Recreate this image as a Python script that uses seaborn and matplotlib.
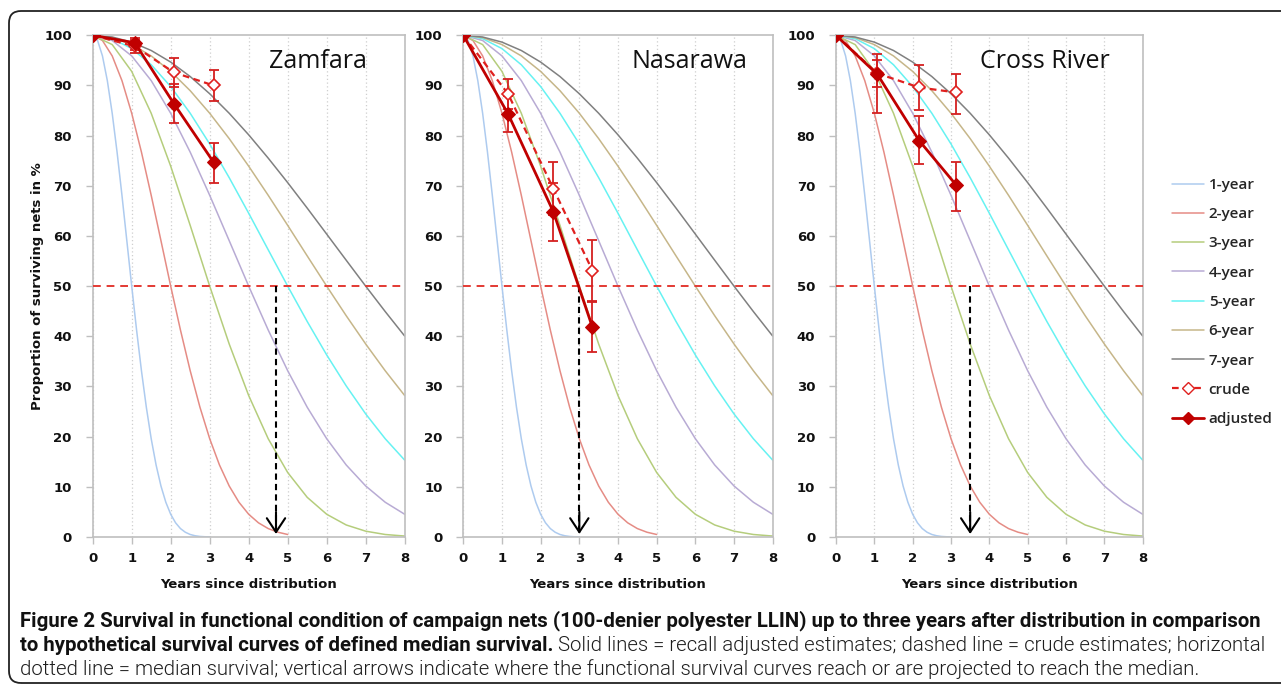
import numpy as np
import pandas as pd
import matplotlib
matplotlib.use("Agg")
import matplotlib.pyplot as plt
import seaborn as sns
from matplotlib.patches import FancyBboxPatch
from matplotlib.transforms import IdentityTransform
from matplotlib.lines import Line2D

# ---------------- data ----------------
curve_names = ["1-year", "2-year", "3-year", "4-year", "5-year", "6-year", "7-year"]
curve_colors = ["#aecbef", "#e58c85", "#b5cd7c", "#b8abd4", "#66f2f2", "#c6b689", "#808080"]

# hypothetical survival curves (% surviving), read at regular steps
years_1yr = np.arange(0, 3.0001, 0.125)
surv_1yr = [100, 98.96, 95.89, 90.97, 84.46, 76.71, 68.11, 59.07, 50.00, 41.26, 33.14,
            25.87, 19.59, 14.36, 10.17, 6.93, 4.53, 2.83, 1.68, 0.95, 0.50, 0.25,
            0.11, 0.05, 0.02]
years_2yr = np.arange(0, 5.0001, 0.25)
surv_2yr = [100, 98.96, 95.89, 90.97, 84.46, 76.71, 68.11, 59.07, 50.00, 41.26, 33.14,
            25.87, 19.59, 14.36, 10.17, 6.93, 4.53, 2.83, 1.68, 0.95, 0.50]
years_long = np.arange(0, 8.0001, 0.5)
surv_3yr = [100, 98.15, 92.80, 84.46, 73.91, 62.11, 50.00, 38.47, 28.19, 19.59, 12.85,
            7.91, 4.53, 2.40, 1.16, 0.50, 0.19]
surv_4yr = [100, 98.96, 95.89, 90.97, 84.46, 76.71, 68.11, 59.07, 50.00, 41.26, 33.14,
            25.87, 19.59, 14.36, 10.17, 6.93, 4.53]
surv_5yr = [100, 99.33, 97.35, 94.13, 89.78, 84.46, 78.34, 71.62, 64.53, 57.25, 50.00,
            42.96, 36.29, 30.12, 24.53, 19.59, 15.32]
surv_6yr = [100, 99.54, 98.15, 95.89, 92.80, 88.96, 84.46, 79.41, 73.91, 68.11, 62.11,
            56.03, 50.00, 44.11, 38.47, 33.14, 28.19]
surv_7yr = [100, 99.66, 98.64, 96.97, 94.66, 91.78, 88.35, 84.46, 80.16, 75.52, 70.63,
            65.56, 60.37, 55.17, 50.00, 44.94, 40.05]

curve_years = [years_1yr, years_2yr, years_long, years_long, years_long, years_long, years_long]
curve_values = [surv_1yr, surv_2yr, surv_3yr, surv_4yr, surv_5yr, surv_6yr, surv_7yr]

# survey estimates per site
sites = ["Zamfara", "Nasarawa", "Cross River"]
survey_years = [[0, 1.08, 2.08, 3.10], [0, 1.16, 2.33, 3.34], [0, 1.08, 2.17, 3.14]]
crude = [[100, 97.8, 92.6, 90.0], [100, 88.3, 69.4, 53.1], [100, 92.4, 89.6, 88.6]]
crude_err_lo = [[0, 1.3, 2.9, 3.1], [0, 2.9, 5.3, 6.1], [0, 2.7, 4.4, 4.2]]
crude_err_hi = [[0, 1.3, 2.9, 3.1], [0, 2.9, 5.3, 6.1], [0, 2.7, 4.4, 3.6]]
adjusted = [[100, 98.5, 86.4, 74.7], [100, 84.3, 64.8, 41.8], [100, 92.2, 79.0, 70.1]]
adj_err_lo = [[0, 1.4, 3.8, 4.2], [0, 3.6, 5.8, 5.0], [0, 7.6, 4.6, 5.1]]
adj_err_hi = [[0, 0.9, 3.8, 3.9], [0, 3.6, 5.8, 5.0], [0, 4.0, 5.0, 4.7]]

median_level = 50
median_reached = [4.7, 3.0, 3.5]   # where the survey curve reaches / is projected to reach 50 %

x_ticks = [0, 1, 2, 3, 4, 5, 6, 7, 8]
y_ticks = [0, 10, 20, 30, 40, 50, 60, 70, 80, 90, 100]

# ---------------- styling ----------------
sns.set_theme(style="white")
plt.rcParams['font.family'] = ['DejaVu Sans']

W, H = 1281, 690
fig = plt.figure(figsize=(W / 100, H / 100), dpi=100)

axes_px = [(92.7, 404.7), (463.3, 772.7), (836.0, 1142.7)]
top_px, bot_px = 35.3, 537.0
title_pos = [0.7205, 0.7295, 0.681]

adj_color = "#c00000"
crude_color = "#e0201e"
err_color = "#d42020"
spine_color = "#bfbfbf"

curve_df = pd.concat([
    pd.DataFrame({"year": yrs, "survival": vals, "curve": name})
    for name, yrs, vals in zip(curve_names, curve_years, curve_values)
], ignore_index=True)

for i, site in enumerate(sites):
    l, r = axes_px[i]
    ax = fig.add_axes([l / W, 1 - bot_px / H, (r - l) / W, (bot_px - top_px) / H])

    sns.lineplot(data=curve_df, x="year", y="survival", hue="curve",
                 palette=dict(zip(curve_names, curve_colors)), estimator=None, sort=False,
                 linewidth=1.1, legend=False, ax=ax, zorder=2)

    ax.axhline(median_level, color="#e33a33", lw=1.4, ls=(0, (4, 3)), zorder=3)

    xm = median_reached[i]
    ax.plot([xm, xm], [median_level, 1.5], color="black", lw=1.5, ls=(0, (3, 2)), zorder=4)
    ax.annotate("", xy=(xm, 0.6), xytext=(xm, 5),
                arrowprops=dict(arrowstyle="->,head_length=0.5,head_width=0.33",
                                color="black", lw=1.5, mutation_scale=20,
                                shrinkA=0, shrinkB=0), zorder=4)

    sx = survey_years[i]
    ax.errorbar(sx, crude[i], yerr=[crude_err_lo[i], crude_err_hi[i]], fmt="none",
                ecolor=err_color, elinewidth=1.3, capsize=3.5, capthick=1.3, zorder=5)
    ax.errorbar(sx, adjusted[i], yerr=[adj_err_lo[i], adj_err_hi[i]], fmt="none",
                ecolor=err_color, elinewidth=1.3, capsize=3.5, capthick=1.3, zorder=5)

    sns.lineplot(x=sx, y=crude[i], ax=ax, color=crude_color, linestyle=(0, (3, 2)),
                 linewidth=1.6, marker="D", markersize=6.5, markerfacecolor="white",
                 markeredgecolor=crude_color, markeredgewidth=1.2, estimator=None,
                 sort=False, zorder=6)
    sns.lineplot(x=sx, y=adjusted[i], ax=ax, color=adj_color, linewidth=2.0,
                 marker="D", markersize=7, markerfacecolor=adj_color,
                 markeredgecolor=adj_color, estimator=None, sort=False, zorder=7)

    ax.set_xlim(0, 8)
    ax.set_ylim(0, 100)
    ax.set_xticks(x_ticks)
    ax.set_yticks(y_ticks)
    ax.set_xticklabels([str(v) for v in x_ticks], fontsize=9.5, fontweight="bold")
    ax.set_yticklabels([str(v) for v in y_ticks], fontsize=9.5, fontweight="bold")
    ax.tick_params(axis="both", bottom=True, left=True, direction="out", length=5,
                   width=1, color=spine_color, labelcolor="#111111")
    ax.tick_params(axis="x", pad=6)
    ax.tick_params(axis="y", pad=10)
    ax.xaxis.grid(True, ls=(0, (1, 2)), color="#cfcfcf", lw=0.9)
    ax.yaxis.grid(False)
    ax.set_axisbelow(True)
    for s in ax.spines.values():
        s.set_color(spine_color)
        s.set_linewidth(1.2)
        s.set_visible(True)

    ax.set_xlabel("Years since distribution", fontsize=9.5, fontweight="bold", color="#111111")
    ax.xaxis.label.set_va("center")
    ax.xaxis.set_label_coords(0.5, -0.094)
    if i == 0:
        ax.set_ylabel("Proportion of surviving nets in %", fontsize=9.5,
                      fontweight="bold", color="#111111")
        ax.yaxis.label.set_va("center")
        ax.yaxis.set_label_coords(-0.178, 0.5)
    else:
        ax.set_ylabel("")

    ax.text(title_pos[i], 0.947, site, transform=ax.transAxes, ha="center", va="center",
            fontsize=18, family=["Open Sans", "DejaVu Sans"], color="#111111")

# legend
handles = [Line2D([], [], color=c, lw=1.1) for c in curve_colors]
handles.append(Line2D([], [], color=crude_color, lw=1.6, ls=(0, (3, 2)), marker="D",
                      markersize=6, markerfacecolor="white", markeredgecolor=crude_color))
handles.append(Line2D([], [], color=adj_color, lw=2.0, marker="D", markersize=6.5,
                      markerfacecolor=adj_color, markeredgecolor=adj_color))
labels = curve_names + ["crude", "adjusted"]
fig.legend(handles, labels, loc="center left", bbox_to_anchor=(1172 / W, 1 - 302 / H),
           frameon=False, handlelength=2.1, handletextpad=0.3, labelspacing=1.0,
           prop=dict(family=["Open Sans", "DejaVu Sans"], weight="semibold", size=11),
           borderaxespad=0, borderpad=0)

# frame around the figure
frame = FancyBboxPatch((9, 7), W + 20, H - 18, boxstyle="round,pad=0,rounding_size=12",
                       transform=IdentityTransform(), fill=False, ec="#222222", lw=1.3)
fig.add_artist(frame)

# caption
cap_font = ["Roboto", "DejaVu Sans"]
line1 = ("Figure 2 Survival in functional condition of campaign nets (100-denier polyester "
         "LLIN) up to three years after distribution in comparison")
line2b = "to hypothetical survival curves of defined median survival."
line2r = (" Solid lines = recall adjusted estimates; dashed line = crude estimates; "
          "horizontal")
line3 = ("dotted line = median survival; vertical arrows indicate where the functional "
         "survival curves reach or are projected to reach the median.")

renderer = fig.canvas.get_renderer()
x0 = 20
t1 = fig.text(x0 / W, 1 - 626 / H, line1, family=cap_font, fontweight="bold",
              fontsize=12, color="#111111", va="baseline")
bb = t1.get_window_extent(renderer)
fs = 12 * 1236 / bb.width
t1.set_fontsize(fs)
t2 = fig.text(x0 / W, 1 - 651 / H, line2b, family=cap_font, fontweight="bold",
              fontsize=fs, color="#111111", va="baseline")
bb2 = t2.get_window_extent(renderer)
fig.text(bb2.x1 / W, 1 - 651 / H, line2r, family=cap_font, fontweight=300,
         fontsize=fs, color="#1e1e1e", va="baseline")
fig.text(x0 / W, 1 - 675 / H, line3, family=cap_font, fontweight=300, fontsize=fs,
         color="#1e1e1e", va="baseline")

fig.savefig("out.png", dpi=100)
